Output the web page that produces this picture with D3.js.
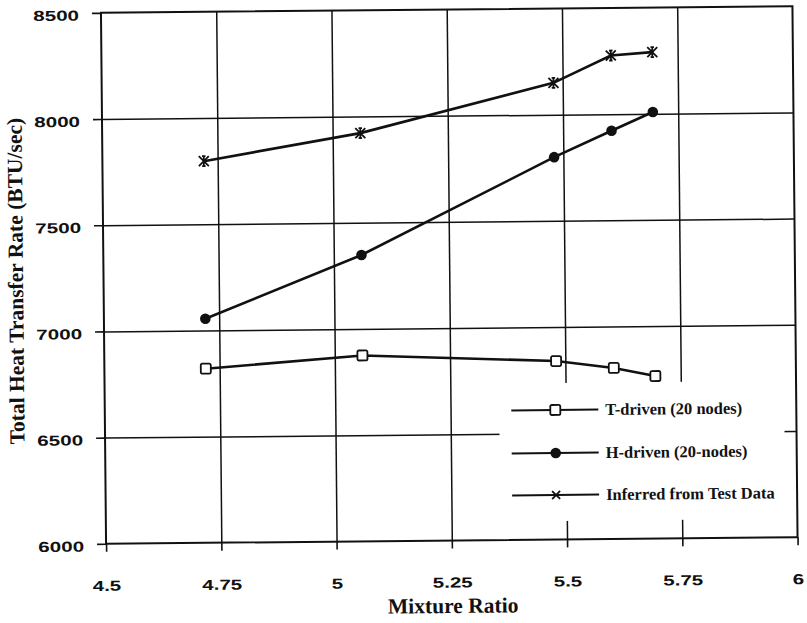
<!DOCTYPE html>
<html>
<head>
<meta charset="utf-8">
<script src="https://cdn.jsdelivr.net/npm/d3@7"></script>
<style>
  html, body { margin: 0; padding: 0; background: #fff; }
  svg { display: block; }
</style>
</head>
<body>
<svg id="chart" width="807" height="623"></svg>
<script>
// ---- data ----
const mixtureRatio = [4.72, 5.06, 5.48, 5.605, 5.695];
const tDriven  = [6820, 6875, 6840, 6805, 6765];
const hDriven  = [7055, 7348, 7800, 7922, 8008];
const inferred = [7797, 7922, 8150, 8276, 8290];
const seriesNames = ["T-driven (20 nodes)", "H-driven (20-nodes)", "Inferred from Test Data"];
const xTickValues = [4.5, 4.75, 5, 5.25, 5.5, 5.75, 6];
const xTickLabels = ["4.5", "4.75", "5", "5.25", "5.5", "5.75", "6"];
const yTickValues = [6000, 6500, 7000, 7500, 8000, 8500];
const yTickLabels = ["6000", "6500", "7000", "7500", "8000", "8500"];
const xTitle = "Mixture Ratio";
const yTitle = "Total Heat Transfer Rate  (BTU/sec)";

// ---- layout ----
const L = 103.5, R = 795, T = 9.5, B = 540.5;
const ink = "#111";
const svg = d3.select("#chart");
const root = svg.append("g").attr("transform", "rotate(-0.55, 449, 275)");

const x = d3.scaleLinear().domain([4.5, 6]).range([L, R]);
const y = d3.scaleLinear().domain([6000, 8500]).range([B, T]);

// gridlines
const gx = root.append("g").attr("transform", `translate(0,${B})`)
  .call(d3.axisBottom(x).tickValues(xTickValues.slice(1, -1)).tickSize(-(B - T)).tickFormat(""));
gx.select(".domain").remove();
gx.selectAll("line").attr("stroke", ink).attr("stroke-width", 1.5);

const gy = root.append("g").attr("transform", `translate(${L},0)`)
  .call(d3.axisLeft(y).tickValues(yTickValues.slice(1, -1)).tickSize(-(R - L)).tickFormat(""));
gy.select(".domain").remove();
gy.selectAll("line").attr("stroke", ink).attr("stroke-width", 1.5);

// legend background (covers gridlines)
const legX = 498, legY = 384, legW = 285, legH = 138;
root.append("rect").attr("x", legX).attr("y", legY).attr("width", legW).attr("height", legH).attr("fill", "#fff");

// plot border
root.append("rect").attr("x", L).attr("y", T).attr("width", R - L).attr("height", B - T)
  .attr("fill", "none").attr("stroke", ink).attr("stroke-width", 2);

// axes with tick marks + labels
const ax = root.append("g").attr("transform", `translate(0,${B})`)
  .call(d3.axisBottom(x).tickValues(xTickValues).tickSize(8).tickFormat((d, i) => xTickLabels[i]));
ax.select(".domain").remove();
ax.selectAll("line").attr("stroke", ink).attr("stroke-width", 1.6);
ax.selectAll("text")
  .attr("y", 0).attr("dy", "0.35em")
  .attr("transform", "translate(0,42) scale(1.42,1)")
  .attr("fill", ink)
  .style("font-family", "'Liberation Sans', Arial, sans-serif")
  .style("font-weight", "bold").style("font-size", "14.5px");

const ay = root.append("g").attr("transform", `translate(${L},0)`)
  .call(d3.axisLeft(y).tickValues(yTickValues).tickSize(9).tickFormat((d, i) => yTickLabels[i]));
ay.select(".domain").remove();
ay.selectAll("line").attr("stroke", ink).attr("stroke-width", 1.6);
ay.selectAll("text")
  .attr("x", 0).attr("dy", "0.35em")
  .attr("transform", "translate(-22,2) scale(1.42,1)")
  .attr("fill", ink)
  .style("font-family", "'Liberation Sans', Arial, sans-serif")
  .style("font-weight", "bold").style("font-size", "14.5px");

// titles
root.append("text").attr("x", 450).attr("y", 613).attr("text-anchor", "middle")
  .attr("fill", ink)
  .style("font-family", "'Liberation Serif', 'Times New Roman', serif")
  .style("font-weight", "bold").style("font-size", "21.5px").text(xTitle);
root.append("text").attr("transform", "translate(23,277) rotate(-90)").attr("text-anchor", "middle")
  .attr("fill", ink)
  .style("font-family", "'Liberation Serif', 'Times New Roman', serif")
  .style("font-weight", "bold").style("font-size", "21.5px").text(yTitle);

// ---- series ----
const line = d3.line().x(d => x(d[0])).y(d => y(d[1]));
const seriesVals = [tDriven, hDriven, inferred];
const markerKinds = ["square", "circle", "star"];

function drawMarker(g, kind, s, plain) {
  if (kind === "square") {
    g.append("rect").attr("x", -5 * s).attr("y", -5 * s).attr("width", 10 * s).attr("height", 10 * s)
      .attr("rx", 1.5).attr("fill", "#fff").attr("stroke", ink).attr("stroke-width", 1.8);
  } else if (kind === "circle") {
    g.append("circle").attr("r", 5.3 * s).attr("fill", ink);
  } else {
    const r = 5 * s;
    const d = plain
      ? `M${-r},${-r}L${r},${r}M${-r},${r}L${r},${-r}`
      : `M${-r},${-r}L${r},${r}M${-r},${r}L${r},${-r}M0,${-r}L0,${r}M${-r*0.35},${-r}H${r*0.35}M${-r*0.35},${r}H${r*0.35}`;
    g.append("path").attr("d", d)
      .attr("fill", "none").attr("stroke", ink).attr("stroke-width", 1.8);
  }
}

seriesVals.forEach((vals, si) => {
  const pts = mixtureRatio.map((m, i) => [m, vals[i]]);
  root.append("path").attr("d", line(pts)).attr("fill", "none")
    .attr("stroke", ink).attr("stroke-width", 2.6);
  pts.forEach(p => {
    const g = root.append("g").attr("transform", `translate(${x(p[0])},${y(p[1])})`);
    drawMarker(g, markerKinds[si], 1, false);
  });
});

// ---- legend ----
const legRowsY = [411, 454, 496];
seriesNames.forEach((name, i) => {
  const yy = legRowsY[i];
  root.append("line").attr("x1", 510).attr("x2", 597).attr("y1", yy).attr("y2", yy)
    .attr("stroke", ink).attr("stroke-width", 2);
  const g = root.append("g").attr("transform", `translate(554,${yy})`);
  drawMarker(g, markerKinds[i], i === 2 ? 0.8 : 1, true);
  root.append("text").attr("x", 604).attr("y", yy).attr("dy", "0.33em")
    .attr("fill", ink)
    .style("font-family", "'Liberation Serif', 'Times New Roman', serif")
    .style("font-weight", "bold").style("font-size", "16.5px").text(name);
});
</script>
</body>
</html>
